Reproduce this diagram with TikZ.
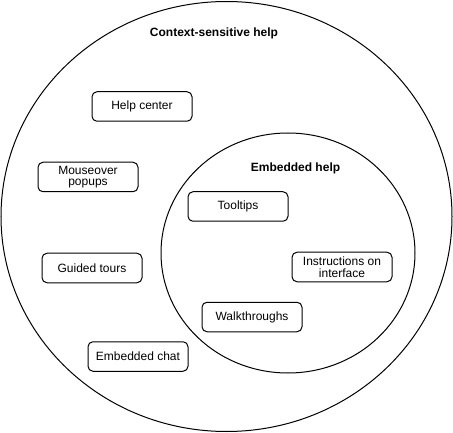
\documentclass[tikz,border=0pt]{standalone}
\usepackage{fontspec}
\setmainfont{Liberation Sans}
\usetikzlibrary{shapes.geometric}
\begin{document}
\begin{tikzpicture}[x=1pt,y=-1pt,
  every node/.style={font=\fontsize{12}{13}\selectfont},
  region/.style={draw=black, line width=1pt, ellipse, inner sep=0pt},
  itembox/.style={draw=black, line width=1pt, rounded corners=5pt, minimum width=100pt, minimum height=29.5pt, inner sep=1pt, align=center, fill=white},
  title/.style={font=\fontsize{12}{13}\selectfont\bfseries}]
\useasboundingbox (0,0) rectangle (453,433);
\node[region, minimum width=451pt, minimum height=430pt] (outer) at (226.5,216.5) {};
\node[region, minimum width=254pt, minimum height=240pt] (inner) at (288,253) {};
\node[title] (ctxlabel) at (214,33) {Context-sensitive help};
\node[title] (emblabel) at (295.5,168) {Embedded help};
\node[itembox] (help) at (142,106.5) {Help center};
\node[itembox] (mouse) at (88,177) {Mouseover\\[-1.5pt]popups};
\node[itembox] (tool) at (238,206.5) {Tooltips};
\node[itembox] (guided) at (92,268) {Guided tours};
\node[itembox] (instr) at (342,267) {Instructions on\\[-1.5pt]interface};
\node[itembox] (walk) at (252,317) {Walkthroughs};
\node[itembox] (chat) at (138,356.5) {Embedded chat};
\end{tikzpicture}
\end{document}
